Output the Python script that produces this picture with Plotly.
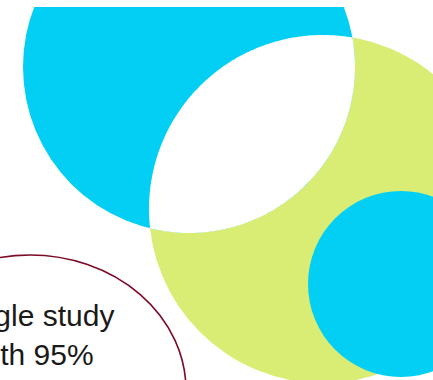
import numpy as np
import plotly.graph_objects as go

# ---- data (shapes, in pixel units) ----
circle_names = ["large_cyan", "green", "small_cyan"]
circle_cx = [189, 323, 401]
circle_cy = [67, 209, 284]
circle_r = [166, 174, 93]

oval_center = [30, 390]
oval_radii = [156, 135]

text_lines = ["Single study", "with 95%", "confidence"]
text_pos = [32, 297]

# ---- styles ----
CYAN = "#03CFF4"
GREEN = "#D9EC73"
MAROON = "#7D0A26"
W, H, TOP = 433, 380, 7

fig = go.Figure()

shapes = []
fills = {"large_cyan": CYAN, "green": GREEN, "small_cyan": CYAN}


def circ(i):
    return dict(type="circle", xref="x", yref="y",
                x0=circle_cx[i] - circle_r[i], x1=circle_cx[i] + circle_r[i],
                y0=circle_cy[i] - circle_r[i], y1=circle_cy[i] + circle_r[i],
                fillcolor=fills[circle_names[i]], line=dict(width=0), layer="below")


shapes.append(circ(1))
shapes.append(circ(0))


# lens (intersection of large cyan and green) drawn white
def arc(cx, cy, r, p, q, ox, oy, n=120):
    phi = np.arctan2(oy - cy, ox - cx)
    def wrap(a):
        return (a + np.pi) % (2 * np.pi) - np.pi
    a1 = phi + wrap(np.arctan2(p[1] - cy, p[0] - cx) - phi)
    a2 = phi + wrap(np.arctan2(q[1] - cy, q[0] - cx) - phi)
    t = np.linspace(a1, a2, n)
    return cx + r * np.cos(t), cy + r * np.sin(t)


c1 = np.array([circle_cx[0], circle_cy[0]], float)
c2 = np.array([circle_cx[1], circle_cy[1]], float)
r1, r2 = circle_r[0], circle_r[1]
d = np.linalg.norm(c2 - c1)
a = (r1**2 - r2**2 + d**2) / (2 * d)
h = np.sqrt(r1**2 - a**2)
u = (c2 - c1) / d
pm = c1 + a * u
perp = np.array([-u[1], u[0]])
A = pm + h * perp
B = pm - h * perp
x1, y1 = arc(c1[0], c1[1], r1, A, B, c2[0], c2[1])
x2, y2 = arc(c2[0], c2[1], r2, B, A, c1[0], c1[1])
lx = np.concatenate([x1, x2])
ly = np.concatenate([y1, y2])
path = "M " + " L ".join(f"{x:.2f},{y:.2f}" for x, y in zip(lx, ly)) + " Z"
shapes.append(dict(type="path", xref="x", yref="y", path=path,
                   fillcolor="white", line=dict(width=0), layer="below"))

shapes.append(circ(2))

shapes.append(dict(type="circle", xref="x", yref="y",
                   x0=oval_center[0] - oval_radii[0], x1=oval_center[0] + oval_radii[0],
                   y0=oval_center[1] - oval_radii[1], y1=oval_center[1] + oval_radii[1],
                   fillcolor="white", line=dict(color=MAROON, width=1.6), layer="below"))

fig.add_annotation(x=text_pos[0], y=text_pos[1], xref="x", yref="y",
                   text="<br>".join(text_lines), showarrow=False,
                   xanchor="center", yanchor="top", align="center",
                   font=dict(family="Liberation Sans, Arial", size=30, color="#1A1A1A"))

fig.update_layout(
    width=W, height=H, margin=dict(l=0, r=0, t=TOP, b=0),
    paper_bgcolor="white", plot_bgcolor="white",
    shapes=shapes, showlegend=False,
    xaxis=dict(range=[0, W], visible=False, fixedrange=True),
    yaxis=dict(range=[H, TOP], visible=False, fixedrange=True),
)

fig.write_html("out.html", config={"displayModeBar": False},
               post_script="document.body.style.margin='0';document.body.style.overflow='hidden';")
